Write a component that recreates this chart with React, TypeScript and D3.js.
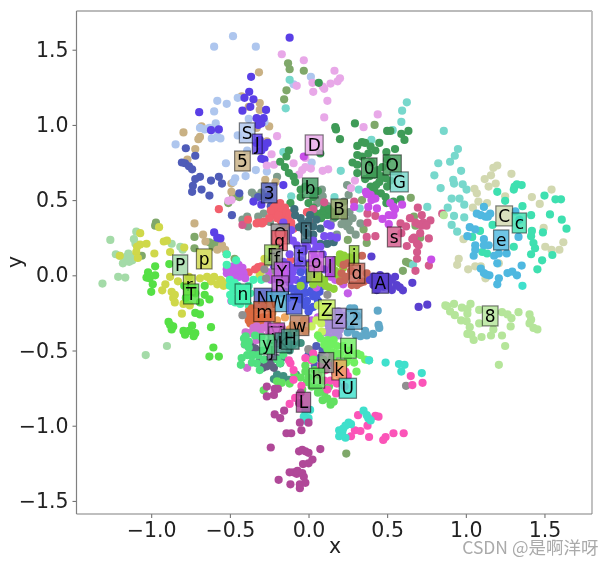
import * as d3 from "d3";
import { useEffect, useRef } from "react";

type Pt = [number, number];

const xTicks = [-1, -0.5, 0, 0.5, 1, 1.5];
const yTicks = [-1.5, -1, -0.5, 0, 0.5, 1, 1.5];

// points of each class (x, y)
const ptsPale: Pt[] = [[-1.095,.29],[-1.26,.235],[-1.11,.24],[-1.225,.14],[-1.2,.13],[-1.155,.125],[-1.145,.145],[-1.18,.08],[-1.12,.1],[-1.13,.125],[-1.17,.1],[-.87,.21],[-.815,.19],[-.8,.17],[-1.21,-.01],[-1.165,-.015],[-1.31,-.055],[-.9,-.47],[-1.035,-.53],[-1.14,.09],[-1.1,.21]];
const ptsYellow: Pt[] = [[-1.07,.28],[-1.03,.21],[-1.09,.19],[-1.07,.205],[-1.095,.155],[-1.085,.115],[-1.2,.13],[-.98,.145],[-.92,.225],[-.9,.23],[-.88,.155],[-.79,.185],[-.95,.32],[-.645,-.01],[-.6,-.01],[-.58,-.06],[-.54,-.07],[-.93,-.1],[-.91,-.06],[-.86,-.15],[-.85,-.18],[-.805,-.255],[-.795,-.19],[-.755,-.2],[-.87,-.11],[-.85,-.13],[-.56,-.03],[-.55,-.04],[-.52,-.06],[-.88,-.01],[-.83,-.04],[-.76,-.01],[-.69,-.02],[-.62,-.04],[-.29,.06],[-.3,.03],[-.33,.04],[-.27,.08],[-.31,.0],[-.28,.11],[-.5,.0],[-.23,-.02]];
const ptsOlive: Pt[] = [[-.97,.35],[-.975,.33],[-1.06,.13],[-.725,.18],[-.725,.255],[-.6,.21],[-.57,.2],[-.52,.14],[-.47,.11],[-.63,.22],[-.61,.19],[-.44,.52],[-.48,.52],[-.51,.48],[-.14,1.23],[-.155,1.17],[-.13,1.41],[-.12,1.37],[-.03,1.36],[.42,1.0],[.65,.515],[.34,.5],[.37,.215],[.25,.235],[.35,.305],[.62,.09],[.64,.08],[.6,.03],[.67,.39],[.71,.25],[.68,.33],[.24,-1.185]];
const ptsLime: Pt[] = [[-1.02,.02],[-.975,.06],[-.885,.075],[-1.03,-.015],[-1.01,-.02],[-.975,0],[-1.0,-.11],[-.99,-.06],[-.69,-.18],[-.72,-.25],[-.69,-.26],[-.89,-.31],[-.88,-.33],[-.86,-.34],[-.87,-.36],[-.795,-.37],[-.785,-.395],[-.74,-.335],[-.72,-.385],[-.76,-.37],[-.73,-.405],[-.62,-.345],[-.605,-.48],[-.63,-.54],[-.57,-.54],[-.78,-.15],[-.72,-.12],[-.66,-.13],[-.63,-.16],[-.79,-.07],[-.66,-.07]];
const ptsLight: Pt[] = [[-.48,1.59],[-.6,1.52],[-.335,1.52],[-.58,1.16],[-.45,1.18],[-.52,1.14],[-.6,1.09],[-.28,1.02],[-.38,1.04],[-.69,.98],[-.66,.97],[-.63,.98],[-.59,1.01],[-.6,.97],[-.615,.91],[-.58,.92],[-.56,.91],[-.845,.87],[-.45,.93],[-.39,.83],[-.525,.745],[-.335,.7],[-.4,.66],[-.466,.645],[-.477,.62],[-.265,.69],[-.095,1.27],[.015,1.32],[.02,.75]];
const ptsTan: Pt[] = [[-.315,1.35],[-.795,.95],[-.69,.92],[-.68,.99],[-.7,.905],[-.72,.84],[-.77,.77],[-.425,1.19],[-.38,1.12],[-.31,1.145],[-.31,1.1],[-.25,.99],[-.33,.98],[-.265,.89],[-.275,.635],[-.21,.62],[-.49,.61],[-.49,.555],[-.725,.345],[-.67,.27],[-.655,.225],[-.58,.17],[-.55,.2],[-.53,.17]];
const ptsSlate: Pt[] = [[-.78,.845],[-.72,.795],[-.805,.75],[-.785,.745],[-.76,.725],[-.74,.705],[-.69,.655],[-.72,.64],[-.62,.63],[-.57,.655],[-.55,.61],[-.735,.595],[-.68,.57],[-.74,.555],[-.63,.53],[-.44,.545],[-.487,.4],[-.255,.525],[-.32,.52],[-.24,.46],[.0,-.53],[.05,-.47],[.07,-.55],[.04,-.6],[.08,-.62],[.02,-.5],[.09,-.5]];
const ptsDeep: Pt[] = [[-.12,1.58],[-.365,1.32],[-.377,1.22],[-.407,1.18],[-.35,1.17],[-.37,1.12],[-.42,1.095],[-.27,1.1],[-.695,1.085],[-.57,.97],[-.62,.965],[-.31,1.03],[-.33,1.045],[-.285,1.045],[-.3,1.01],[-.32,1.0],[-.31,.9],[-.29,.87],[-.26,.88],[-.33,.88],[-.3,.83],[-.28,.85],[-.3,.775],[-.28,.77],[-.16,.6],[-.6,.285],[-.56,.245],[-.58,.25],[-.35,.49],[-.3,.47]];
const ptsOrchid: Pt[] = [[-.17,1.47],[-.03,1.43],[-.075,1.26],[-.2,.925],[-.235,.805],[-.265,.73],[-.22,.735],[-.095,.745],[-.04,.7],[-.49,.5],[-.51,.495],[.165,1.36],[.2,1.31],[.185,1.29],[.14,1.275],[.1,1.24],[.09,1.255],[.025,1.28],[.03,1.22],[.12,1.16],[.1,1.05],[.44,1.07],[.35,.985],[.125,.705],[.09,.695],[.015,.71],[.295,.63],[.27,.58],[-.02,.72],[-.06,.67],[-.02,.78]];
const ptsTeal: Pt[] = [[-.12,1.3],[-.145,1.11],[-.16,.82],[-.11,.525],[.625,1.15],[.595,1.095],[.59,1.02],[.535,.965],[.4,.9],[.205,.695],[.32,.57],[.165,.52],[.325,.445],[.86,.96],[.95,.84],[.93,.795],[.9,.755],[.825,.745],[.8,.665],[.97,.695],[.92,.635],[.925,.61],[.98,.605],[.84,.58],[1.005,.57],[.91,.51],[.96,.51],[.99,.47],[.885,.45],[.925,.395],[.99,.385],[.91,.335],[.945,.29],[.755,.455],[.665,.07],[1.04,.255]];
const ptsForest: Pt[] = [[.17,.985],[.175,.97],[.295,1.01],[.5,.96],[.52,.96],[.635,.96],[.59,.94],[.61,.9],[.2,.905],[.065,1.28],[.34,.885],[.31,.86],[.36,.88],[.395,.855],[.425,.83],[.45,.88],[.495,.82],[.55,.84],[.31,.8],[.34,.79],[.38,.81],[.28,.75],[.31,.735],[.31,.68],[.5,.77],[.47,.72],[.45,.62],[.49,.645],[.5,.59],[.395,.59],[.46,.545],[.415,.52],[.49,.52],[.54,.49],[.585,.505],[.495,.48],[.075,.81],[-.125,.83],[-.14,.79],[-.18,.755],[-.15,.72],[-.125,.68],[-.095,.655],[-.085,.62],[-.115,.48],[-.05,.57],[-.02,.59],[-.05,.52],[.03,.52],[.06,.56],[.0,.48],[.42,.67],[.44,.7],[.43,.6],[.4,.75],[.12,.4],[.15,.42],[.09,.42],[.05,.41],[.1,.45],[.13,.44],[.03,.45],[.17,.39],[.08,.38],[.36,.64],[.39,.66],[.46,.66],[.52,.63],[.42,.56]];
const ptsSage: Pt[] = [[.245,.6],[.255,.535],[.225,.49],[.085,.57],[.09,.525],[.055,.48],[.11,.435],[.075,.39],[.245,.325],[.265,.3],[.3,.27],[.255,.355],[.33,.345],[.18,.27],[-.42,.37],[-.39,.39],[-.385,.325],[-.32,.39],[-.245,.355],[-.285,.41],[-.2,.655],[-.36,.55],[-.34,.53],[-.3,.55],[-.28,.52],[.12,.46],[.16,.38],[.21,.42],[.23,.38],[.26,.42],[.28,.38],[.02,.43],[.14,.34],[.07,.5],[.03,.56],[.21,.34]];
const ptsRose: Pt[] = [[.695,.45],[.72,.4],[.775,.365],[.73,.35],[.7,.34],[.67,.25],[.71,.28],[.765,.245],[.69,.21],[.69,.155],[.69,.11],[.765,.065],[.68,.03],[.625,.195],[.62,.325],[.645,.38],[.375,.41],[.375,.35],[.37,.255],[.425,.26],[.425,.395],[.29,.49],[.1,.485],[.03,.44],[.85,.41],[.585,.345],[.59,.28],[.72,.33],[.75,.33],[.68,.35],[.66,.24],[.7,.2],[-.42,.335]];
const ptsFuchsia: Pt[] = [[.365,.555],[.395,.535],[.425,.51],[.52,.48],[.54,.455],[.595,.47],[.55,.44],[.51,.4],[.54,.4],[.47,.375],[.51,.34],[.29,.455],[.38,.455],[.435,.445],[.78,.105],[.4,.5],[.37,.54],[-.03,.79],[-.49,-.17]];
const ptsRed: Pt[] = [[-.22,.45],[-.18,.48],[-.15,.45],[-.2,.41],[-.16,.4],[-.23,.4],[-.18,.37],[-.13,.38],[-.11,.35],[-.095,.31],[-.32,.35],[-.285,.355],[-.57,.44],[-.385,.37],[-.33,.345],[-.295,.345],[-.21,.41],[-.19,.44],[-.25,.38],[-.14,.33],[-.32,.055],[-.38,.02],[-.115,.1],[-.3,.06],[-.34,.04],[-.01,.42],[.01,.35],[-.21,.46],[-.17,.43],[-.14,.42],[-.2,.38],[-.17,.35],[-.24,.43],[-.19,.4],[-.12,.41]];
const ptsPetrol: Pt[] = [[-.085,.4],[-.04,.345],[.01,.4],[.05,.37],[-.015,.28],[-.02,.225],[.03,.325],[.075,.21],[.115,.21],[-.06,.32],[-.03,.3],[.075,.31],[.12,.21],[.16,.22],[-.05,.38],[.0,.36],[.03,.27],[-.09,.44]];
const ptsViolet: Pt[] = [[.05,.19],[.075,.19],[-.01,.19],[-.075,.2],[-.11,.3],[-.16,.35],[.12,.34],[.14,.33],[.18,.25],[.03,.16],[-.03,.16],[.14,.26],[-.13,.26],[-.16,.09],[-.14,.01],[-.12,-.05],[-.095,.05],[-.19,.18],[-.1,.23],[.09,.14],[-.05,.1],[-.12,.14],[.0,.08],[-.22,.06],[-.18,.07],[-.08,-.03],[.0,-.02],[.05,.0],[.1,.04],[.17,.1],[.04,.12],[-.13,.07],[-.15,.03],[-.1,.02],[-.07,.06],[-.11,-.02],[-.16,-.03],[-.04,.04],[-.02,.21],[.03,.23],[.1,.26]];
const ptsCobalt: Pt[] = [[-.075,-.09],[-.03,-.07],[-.01,-.115],[.03,-.14],[-.095,-.14],[-.05,-.16],[-.02,-.2],[.01,-.22],[-.05,-.05],[.05,-.09],[.07,-.11],[-.106,-.09],[-.03,-.03],[0,-.24],[.03,-.21],[.06,-.17],[-.23,-.17],[-.15,-.11],[-.22,-.12],[-.01,-.03],[.09,-.07],[.0,.02],[-.05,.02],[-.07,-.12],[-.03,-.12],[-.01,-.17],[.02,-.1],[.05,-.13]];
const ptsPlum: Pt[] = [[-.498,.047],[-.466,.024],[-.434,.047],[-.455,-.009],[-.487,.002],[-.413,.013],[-.445,.069],[-.519,.013],[-.402,-.02],[-.48,.06],[-.44,-.01],[-.5,.03],[-.43,.03],[.14,-.01],[.17,-.03],[.05,-.08],[-.25,.02],[-.24,-.03],[-.2,-.01],[-.18,-.03],[-.16,.02],[.25,-.12],[.22,-.06],[.06,-.28],[.02,-.3],[-.46,.05],[-.47,-.02],[-.42,.05],[-.52,.04]];
const ptsChartreuse: Pt[] = [[.224,.131],[.2,.14],[.245,.098],[.18,.1],[.266,.08],[.15,.06],[.2,.08],[.22,.05],[.17,.03],[.19,.0],[.26,.12],[.21,.11],[.08,-.05],[.11,-.07],[.07,-.01],[.1,-.03],[.13,-.08],[.05,-.03],[.03,-.06],[.16,-.09],[-.05,-.07]];
const ptsBrick: Pt[] = [[.223,.069],[.21,.013],[.23,-.031],[.275,-.065],[.307,-.065],[.35,-.042],[.37,.013],[.25,.08],[.2,-.04],[.34,.13],[.24,-.01],[.27,.03],[.33,-.05],[.38,-.03]];
const ptsIndigo: Pt[] = [[.413,-.009],[.434,-.031],[.455,.002],[.487,-.02],[.508,-.042],[.477,-.076],[.434,-.098],[.413,-.065],[.4,.125],[.39,-.031],[.53,-.098],[.561,-.065],[.51,-.07],[.55,-.01],[.45,-.04],[.48,-.05],[.5,-.01],[.53,-.03],[.58,-.08],[.66,-.05],[.7,-.21],[.755,-.195],[.6,-.1]];
const ptsMint: Pt[] = [[-.477,-.1],[-.456,-.15],[-.498,-.13],[-.434,-.19],[-.487,-.17],[-.466,-.18],[-.392,-.17],[-.371,-.12],[-.5,-.07],[-.45,-.07],[-.42,-.09],[-.38,-.07],[-.35,-.03],[-.5,-.03],[-.47,-.05],[-.4,-.15],[-.44,-.13],[-.38,-.2],[-.3,-.03],[-.46,.1],[-.52,.14],[-.52,.07]];
const ptsSienna: Pt[] = [[-.35,-.24],[-.37,-.28],[-.33,-.29],[-.38,-.24],[-.29,-.28],[-.31,-.3],[-.25,-.28],[-.36,-.22],[-.38,-.27],[-.38,-.3],[-.35,-.32],[-.33,-.33],[-.3,-.32],[-.37,-.32],[-.28,-.2]];
const ptsSteel: Pt[] = [[.44,-.235],[.445,-.33],[.45,-.35],[.41,-.39],[.36,-.37],[.37,-.4],[.33,-.405],[.3,-.395],[.265,-.22],[.29,-.22],[.31,-.27],[.25,-.38],[.27,-.36],[-.17,-.12],[-.2,-.13],[-.13,-.15]];
const ptsLavender: Pt[] = [[.12,-.32],[.15,-.29],[.18,-.34],[.13,-.36],[.17,-.38],[.2,-.36],[.14,-.41],[.16,-.25],[.11,-.38],[.225,-.32],[.19,-.4],[.22,-.27],[.1,-.28],[.12,-.27],[.19,-.24],[.16,-.33],[.2,-.3]];
const ptsLemon: Pt[] = [[.08,-.32],[.085,-.375],[.065,-.395],[.05,-.3],[.1,-.22],[.06,-.2],[.09,-.27],[.02,-.34]];
const ptsTanOrange: Pt[] = [[-.1,-.33],[-.15,-.28],[-.12,-.36],[-.06,-.35],[-.03,-.3],[-.02,-.37],[-.2,-.3],[-.23,-.25],[.2,-.64],[.22,-.62],[.18,-.58]];
const ptsOrchid2: Pt[] = [[-.35,-.35],[-.38,-.385],[-.32,-.37],[-.29,-.35],[-.39,-.615],[-.3,-.4],[-.33,-.34],[-.405,-.46],[-.25,-.38],[-.22,-.36],[-.17,-.35],[-.36,-.46],[-.4,-.38],[-.33,-.43],[-.26,-.33]];
const ptsSea: Pt[] = [[-.16,-.67],[-.125,-.695],[-.22,-.69],[-.17,-.55],[-.12,-.5],[-.1,-.46],[-.15,-.46],[-.05,-.45],[-.2,-.66],[-.19,-.44],[-.08,-.66],[-.13,-.4]];
const ptsShadow: Pt[] = [[-.34,-.485],[-.35,-.51],[-.265,-.605],[-.22,-.615],[-.24,-.58],[-.31,-.57],[-.29,-.615],[-.18,-.585],[-.33,-.5],[-.37,-.47],[-.28,-.56],[-.2,-.55]];
const ptsEmerald: Pt[] = [[-.4,-.405],[-.38,-.44],[-.405,-.46],[-.37,-.53],[-.425,-.55],[-.43,-.595],[-.39,-.53],[-.33,-.585],[-.31,-.63],[-.285,-.56],[-.34,-.4],[-.3,-.41],[-.18,-.585],[-.2,-.56],[-.35,-.53],[-.38,-.48],[-.32,-.53],[-.24,-.5],[-.16,-.53],[-.41,-.42],[-.29,-.5],[-.36,-.58]];
const ptsGreen: Pt[] = [[-.2,-.705],[-.285,-.765],[-.05,-.68],[-.02,-.64],[.0,-.68],[.02,-.74],[.06,-.75],[.12,-.82],[.1,-.78],[-.17,-.715],[-.12,-.72],[.04,-.63],[-.02,-.6],[.06,-.78],[.09,-.83],[.14,-.86],[.16,-.84],[.18,-.62],[-.04,-.76],[-.09,-.66],[.13,-.74],[.03,-.55],[-.01,-.71]];
const ptsGray: Pt[] = [[.62,-.735],[.12,-.13],[0,-.495],[-.42,-.265],[.0,-.49],[-.2,.09],[-.17,.06],[-.21,.03],[-.25,.09],[-.28,.04],[-.27,-.02],[.11,-.47],[.18,-.55]];
const ptsHot: Pt[] = [[-.125,-.565],[-.095,-.63],[-.095,-.695],[-.045,-.735],[-.115,-.585],[-.02,-.55],[.02,-.565],[-.085,-.815],[-.12,-.855],[.315,-.93],[.425,-.935],[.445,-.94],[.375,-1.0],[.295,-1.03],[.33,-1.035],[.27,-1.07],[.385,-1.075],[.54,-1.05],[.605,-1.05],[.49,-1.075],[.475,-1.095],[.65,-.67],[.66,-.73],[.725,-.715],[.12,-.76],[.175,-.785],[.235,-.64],[.2,-.67],[.17,-.65],[.11,-.63],[.2,-.6],[.14,-.7],[.1,-.7],[.17,-.6],[.25,-.67],[.23,-.74],[.18,-.72],[.08,-.6],[.03,-.52],[.06,-.66],[.14,-.58]];
const ptsSpring: Pt[] = [[.12,-.43],[.16,-.43],[.18,-.47],[.12,-.49],[.15,-.51],[.2,-.52],[.25,-.55],[.33,-.53],[.36,-.56],[.385,-.565],[.31,-.52],[.14,-.46],[.095,-.56],[.2,-.58],[.305,-.64],[.075,-.42],[.03,-.56],[.1,-.46],[.06,-.4],[.22,-.47],[.26,-.5],[.29,-.58],[.15,-.55],[.24,-.58],[.18,-.52]];
const ptsAqua: Pt[] = [[.49,-.58],[.575,-.59],[.61,-.595],[.59,-.64],[.72,-.65],[.35,-.9],[.38,-.95],[.395,-.965],[.255,-.98],[.27,-.99],[.235,-1.0],[.195,-1.03],[.215,-1.04],[.195,-1.07],[.235,-1.08],[.385,-.565],[.01,-.895],[0,-.95],[-.03,-.94],[-.01,-.97],[.21,-1.06],[.22,-1.02],[.37,-.93],[-.02,-.9],[1.36,-.07]];
const ptsMagentaDark: Pt[] = [[.075,-1.155],[.025,-1.225],[0,-1.18],[.0,-.98],[-.265,-.74],[-.265,-.805],[-.215,-.755],[-.195,-.755],[-.22,-.795],[-.155,-.9],[-.215,-.925],[-.18,-.95],[-.055,-.98],[-.045,-1.03],[-.14,-1.05],[-.11,-1.05],[-.24,-1.145],[-.06,-1.17],[-.04,-1.16],[-.02,-1.17],[-.035,-1.255],[-.12,-1.31],[-.095,-1.31],[-.075,-1.32],[-.04,-1.315],[-.19,-1.36],[-.115,-1.39],[-.055,-1.415],[-.055,-1.39],[0,-1.25],[-.06,-.85],[-.05,-.78],[-.07,-1.3],[-.03,-1.34],[-.02,-1.38]];
const ptsKhaki: Pt[] = [[1.2,.73],[1.175,.715],[1.16,.665],[1.12,.64],[1.19,.61],[1.145,.59],[1.29,.675],[1.055,.575],[1.07,.545],[1.25,.525],[1.08,.49],[1.135,.48],[1.045,.45],[1.42,.52],[1.47,.475],[1.545,.57],[1.495,.315],[1.505,.19],[1.545,.17],[1.595,.17],[1.62,.22],[.985,.24],[.955,.11],[.945,.07],[1.015,.04],[1.06,.06],[1.095,.06],[1.125,-.02],[1.21,.08]];
const ptsJade: Pt[] = [[1.2,.555],[1.25,.495],[1.305,.57],[1.325,.605],[1.355,.6],[1.31,.59],[1.36,.46],[1.415,.4],[1.535,.405],[1.5,.53],[1.57,.505],[1.605,.505],[1.61,.37],[1.64,.31],[1.49,.285],[1.42,.295],[1.415,.26],[1.43,.215],[1.44,.18],[1.415,.14],[1.305,.19],[1.55,.135],[1.485,.1],[1.455,.04],[1.09,.295],[1.17,.335],[1.04,.255],[1.135,.145],[1.105,.155]];
const ptsSky: Pt[] = [[1.07,.41],[1.095,.4],[1.125,.39],[1.155,.41],[1.115,.455],[1.14,.39],[1.025,.32],[1.06,.305],[1.01,.26],[1.115,.24],[1.115,.2],[1.145,.2],[1.06,.2],[1.06,.17],[1.05,.13],[1.18,.13],[1.21,.145],[1.26,.145],[1.335,.255],[1.315,.425],[1.34,.37],[1.2,.08],[1.355,.065],[1.095,.045],[1.115,.015],[1.15,0],[1.21,-.02],[1.265,.015],[1.295,.025],[1.325,0],[1.2,-.06],[1.13,.005]];
const ptsMoss: Pt[] = [[.88,-.205],[.925,-.19],[.9,-.24],[.93,-.265],[.975,-.215],[1.01,-.225],[1.03,-.19],[1.01,-.255],[.97,-.3],[1.005,-.305],[1.085,-.23],[1.085,-.32],[1.025,-.345],[1.01,-.39],[1.035,-.395],[1.05,-.43],[1.1,-.41],[1.16,-.4],[1.175,-.36],[1.23,-.4],[1.25,-.47],[1.21,-.595],[1.23,-.245],[1.265,-.26],[1.29,-.285],[1.285,-.34],[1.335,-.245],[1.405,-.26],[1.415,-.295],[1.405,-.32],[1.43,-.35],[1.455,-.36],[.87,-.2],[.86,.4]];

const pointSeries: Pt[][] = [ptsPale, ptsOlive, ptsSage, ptsTan, ptsLight, ptsSlate, ptsDeep, ptsOrchid, ptsTeal, ptsForest, ptsYellow, ptsLime, ptsRose, ptsFuchsia, ptsRed, ptsPetrol, ptsViolet, ptsCobalt, ptsPlum, ptsChartreuse, ptsBrick, ptsIndigo, ptsMint, ptsTanOrange, ptsSienna, ptsSteel, ptsLavender, ptsLemon, ptsOrchid2, ptsSea, ptsShadow, ptsEmerald, ptsGreen, ptsGray, ptsHot, ptsSpring, ptsAqua, ptsMagentaDark, ptsKhaki, ptsJade, ptsSky, ptsMoss];
const pointColors = ["#a4dba8","#7fa86a","#7f9c8c","#c9b184","#aec6ee","#4f5cb8","#5a3fe6","#e8a8e8","#77d8cc","#3f9b57","#cfd84a","#55e045","#d45a8c","#c84fe8","#f25f6c","#3f6f7c","#7a50f0","#4a58e0","#c45ee8","#8fd238","#c86858","#5a40d0","#45f0b0","#f0a860","#dc6a40","#60a8c8","#a890d8","#c8f060","#d070d0","#409080","#606080","#50e080","#62e060","#909090","#fb54b8","#70f060","#3fe0cc","#b04898","#d2d8b0","#3ee0b0","#4fb8e0","#b5e59a"];

// text annotations
const labelChars = ["S","J","5","3","D","0","O","G","b","B","s","C","c","e","8","P","p","r","T","Q","q","F","f","Y","R","i","t","T","o","l","j","d","A","n","N","W","7","m","Z","z","2","w","V","v","K","H","j","y","k","x","h","U","u","L"];
const labelXs = [-.39,-.326,-.42,-.25,.036,.386,.532,.577,.011,.195,.545,1.244,1.34,1.225,1.155,-.816,-.663,-.758,-.746,-.18,-.184,-.233,-.2,-.169,-.18,-.015,-.053,.036,.049,.138,.29,.308,.456,-.417,-.29,-.197,-.091,-.28,.117,.195,.29,-.057,-.205,-.205,-.161,-.116,-.233,-.264,.195,.113,.053,.25,.254,-.032];
const labelYs = [.947,.873,.76,.548,.867,.714,.734,.621,.581,.441,.255,.395,.348,.235,-.27,.069,.109,-.064,-.124,.275,.231,.136,.109,.021,-.07,.282,.129,.023,.091,.058,.131,.014,-.053,-.124,-.152,-.175,-.192,-.241,-.23,-.285,-.292,-.334,-.383,-.41,-.449,-.425,-.496,-.458,-.629,-.58,-.684,-.751,-.485,-.844];
const labelColors = ["#aec6ee","#5a3fe6","#c9b184","#4f5cb8","#e8a8e8","#3f9b57","#3f9b57","#77d8cc","#3f9b5f","#8a9f5f","#d45a8c","#d2d8b0","#3ee0b0","#4fb8e0","#b5e59a","#a4dba8","#cfd84a","#b8d83a","#55e045","#8f8f8f","#f25f6c","#a0d860","#909090","#c45ee8","#b060d0","#3f6f7c","#6a50e8","#a8d040","#d060e0","#a840d8","#90d030","#c86858","#5a40d0","#45f0b0","#4a58c0","#50b0d0","#4a58e0","#dc6a40","#c8f060","#a890d8","#60a8c8","#c08060","#c050c0","#d070d0","#409080","#409080","#606080","#50e080","#f0a860","#909090","#62e060","#3fe0cc","#70f060","#b04898"];

const WIDTH = 614;
const HEIGHT = 566;

function drawChart(svgElement: SVGSVGElement) {
  const plot = { left: 76.5, right: 592, top: 11, bottom: 514 };
  const svg = d3.select(svgElement);
  svg.selectAll("*").remove();

  const x = d3.scaleLinear().domain([-1.475, 1.8]).range([plot.left, plot.left + 3.275 * 157.3]);
  const y = d3.scaleLinear().domain([-1.587, 1.758]).range([plot.bottom, plot.bottom - 3.345 * 150.4]);

  const marks = svg.append("g");
  pointSeries.forEach((pts, i) => {
    marks
      .append("g")
      .selectAll("circle")
      .data(pts)
      .join("circle")
      .attr("cx", (d) => x(d[0]))
      .attr("cy", (d) => y(d[1]))
      .attr("r", 4.1)
      .attr("fill", pointColors[i]);
  });

  const labels = svg
    .append("g")
    .selectAll("g")
    .data(labelChars)
    .join("g")
    .attr("transform", (_, i) => `translate(${x(labelXs[i])},${y(labelYs[i])})`);
  const boxes = labels
    .append("rect")
    .attr("fill", (_, i) => labelColors[i])
    .attr("fill-opacity", 0.82)
    .attr("stroke", "#000")
    .attr("stroke-opacity", 0.5)
    .attr("stroke-width", 1.2);
  const texts = labels
    .append("text")
    .attr("text-anchor", "middle")
    .attr("y", 6)
    .attr("font-family", "DejaVu Sans")
    .attr("font-size", 17)
    .attr("fill", "#000")
    .text((d) => d);
  // box width follows the glyph, height stays the same
  const widths = texts.nodes().map((n) => (n as SVGTextElement).getComputedTextLength());
  boxes
    .attr("x", (_, i) => -widths[i] / 2 - 2.4)
    .attr("y", -10)
    .attr("width", (_, i) => widths[i] + 4.8)
    .attr("height", 20);

  const fmt = (v: number) => (v < 0 ? `\u2212${Math.abs(v).toFixed(1)}` : v.toFixed(1));

  const xAxis = svg
    .append("g")
    .attr("transform", `translate(0,${plot.bottom})`)
    .call(d3.axisBottom(x).tickValues(xTicks).tickFormat((d) => fmt(+d)).tickSize(4).tickPadding(4));
  const yAxis = svg
    .append("g")
    .attr("transform", `translate(${plot.left},0)`)
    .call(d3.axisLeft(y).tickValues(yTicks).tickFormat((d) => fmt(+d)).tickSize(4).tickPadding(4));
  for (const axis of [xAxis, yAxis]) {
    axis.select(".domain").remove();
    axis.selectAll("line").attr("stroke", "#666");
    axis.selectAll("text").attr("font-family", "DejaVu Sans").attr("font-size", 20.5).attr("fill", "#222");
  }

  // spines: left and bottom dark, top and right lighter
  const spines = [
    { x1: plot.left, y1: plot.top, x2: plot.right, y2: plot.top, c: "#bbb", w: 1.8 },
    { x1: plot.right, y1: plot.top, x2: plot.right, y2: plot.bottom, c: "#bbb", w: 1.8 },
    { x1: plot.left, y1: plot.top, x2: plot.left, y2: plot.bottom, c: "#808080", w: 1.2 },
    { x1: plot.left, y1: plot.bottom, x2: plot.right, y2: plot.bottom, c: "#808080", w: 1.2 },
  ];
  svg
    .append("g")
    .selectAll("line")
    .data(spines)
    .join("line")
    .attr("x1", (d) => d.x1)
    .attr("y1", (d) => d.y1)
    .attr("x2", (d) => d.x2)
    .attr("y2", (d) => d.y2)
    .attr("stroke", (d) => d.c)
    .attr("stroke-width", (d) => d.w);

  svg
    .append("text")
    .attr("x", 335)
    .attr("y", 553)
    .attr("text-anchor", "middle")
    .attr("font-family", "DejaVu Sans")
    .attr("font-size", 20.5)
    .attr("fill", "#222")
    .text("x");
  svg
    .append("text")
    .attr("transform", "translate(22,262) rotate(-90)")
    .attr("text-anchor", "middle")
    .attr("font-family", "DejaVu Sans")
    .attr("font-size", 20.5)
    .attr("fill", "#222")
    .text("y");

  svg
    .append("text")
    .attr("x", 598.5)
    .attr("y", 554)
    .attr("text-anchor", "end")
    .attr("font-family", "'Noto Sans CJK SC', 'Noto Sans'")
    .attr("font-size", 17.5)
    .attr("fill", "#aaa")
    .text("CSDN @是啊洋呀");
}

export default function App() {
  const svgRef = useRef<SVGSVGElement>(null);

  useEffect(() => {
    if (svgRef.current) drawChart(svgRef.current);
  }, []);

  return (
    <svg
      ref={svgRef}
      width={WIDTH}
      height={HEIGHT}
      viewBox={`0 0 ${WIDTH} ${HEIGHT}`}
      style={{ position: "absolute", left: 0, top: 0, background: "#fff", filter: "blur(0.35px)" }}
    />
  );
}
